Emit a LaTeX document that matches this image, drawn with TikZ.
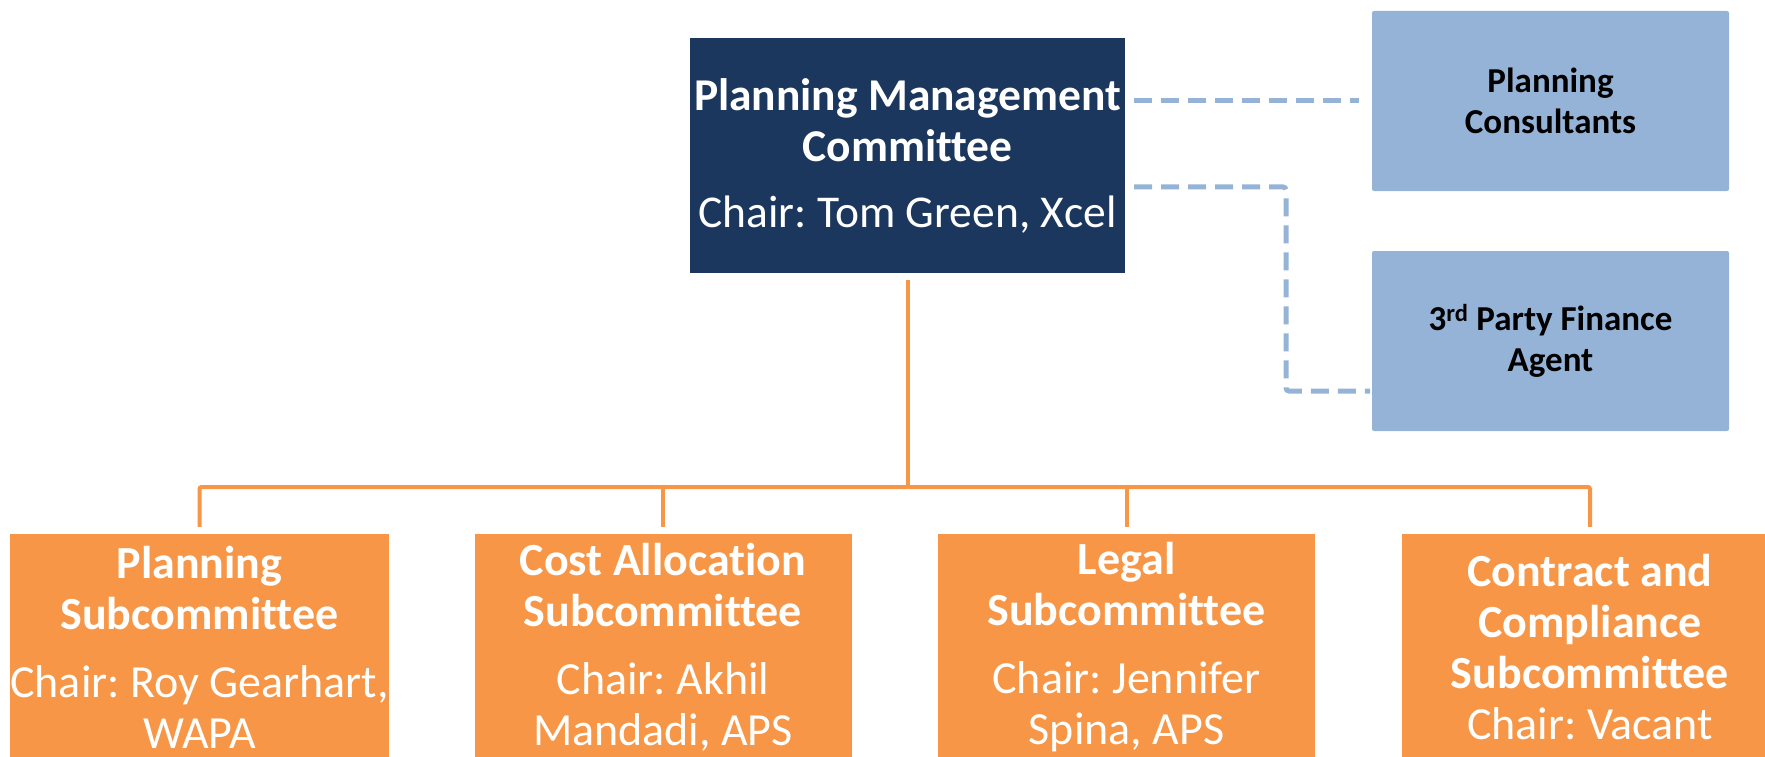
\documentclass[tikz,border=0pt]{standalone}
\usepackage{fontspec}
\setmainfont[Ligatures={NoCommon}]{Carlito}
\frenchspacing
\definecolor{navy}{RGB}{27,55,94}
\definecolor{org}{RGB}{247,150,70}
\definecolor{lblue}{RGB}{149,179,215}
\tikzset{
 topbox/.style={fill=navy, text=white, minimum width=435pt, minimum height=235pt, align=center, inner sep=0pt, font=\fontsize{45.5}{51}\selectfont},
 sidebox/.style={fill=lblue, rounded corners=2pt, text=black, minimum width=357pt, minimum height=180pt, align=center, inner sep=0pt, font=\fontsize{35}{41}\selectfont\bfseries},
 subbox/.style={fill=org, text=white, minimum width=377pt, minimum height=226pt, align=center, inner sep=0pt, font=\fontsize{46}{51}\selectfont},
 orgline/.style={draw=org, line width=4pt},
 dashline/.style={draw=lblue, line width=5pt, dash pattern=on 18pt off 9pt},
}
\begin{document}
\begin{tikzpicture}[x=1pt,y=-1pt]
\useasboundingbox (0,0) rectangle (1765,757);
\clip (0,0) rectangle (1765,757);
\node[topbox] (top) at (907.5,155.5) {\textbf{Planning Management}\\\textbf{Committee}\\[15pt]Chair: Tom Green, Xcel};
\node[sidebox] (pc) at (1550.5,101) {Planning\\Consultants};
\node[sidebox] (tp) at (1550.5,341) {3\textsuperscript{rd} Party Finance\\Agent};
\node[subbox] (s1) at (199.5,647) {\textbf{Planning}\\\textbf{Subcommittee}\\[17pt]Chair: Roy Gearhart,\\WAPA};
\node[subbox] (s2) at (663,647) {\textbf{Cost Allocation}\\\textbf{Subcommittee}\\[17pt]Chair: Akhil\\Mandadi, APS};
\node[subbox] (s3) at (1126.5,647) {\textbf{Legal}\\\textbf{Subcommittee}\\[17pt]Chair: Jennifer\\Spina, APS};
\node[subbox] (s4) at (1590,647) {\textbf{Contract and}\\\textbf{Compliance}\\\textbf{Subcommittee}\\Chair: Vacant};
% orange tree
\coordinate (bus) at (907.5,487);
\draw[orgline, shorten <=7pt] (top.south) -- (bus);
\draw[orgline, shorten >=7pt, rounded corners=2pt] (bus) -| (s1.north);
\draw[orgline, shorten >=7pt, rounded corners=2pt] (bus) -| (s4.north);
\draw[orgline, shorten >=7pt] (s2.north |- bus) -- (s2.north);
\draw[orgline, shorten >=7pt] (s3.north |- bus) -- (s3.north);
% dashed links
\coordinate (a1) at (1134,101);
\coordinate (b1) at (1359,101);
\draw[dashline] (a1) -- (b1);
\coordinate (a2) at (1134,187);
\coordinate (c2) at (1286,187);
\coordinate (d2) at (1286,391);
\coordinate (b2) at (1370,391);
\draw[dashline, rounded corners=3pt] (a2) -- (c2) -- (d2) -- (b2);
\end{tikzpicture}
\end{document}
